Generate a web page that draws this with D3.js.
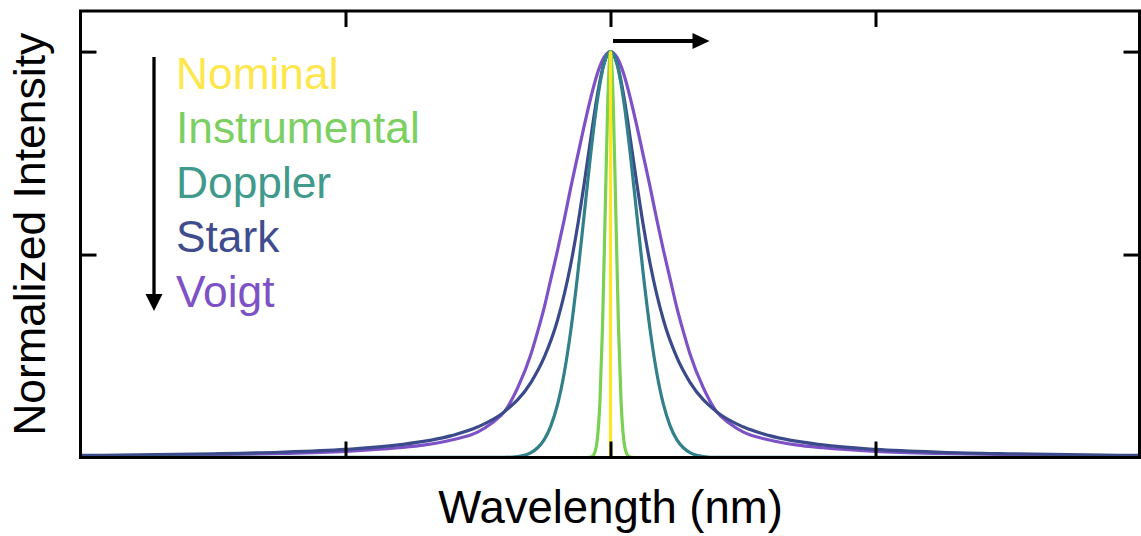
<!DOCTYPE html>
<html>
<head>
<meta charset="utf-8">
<script src="https://cdn.jsdelivr.net/npm/d3@7"></script>
<style>
  html, body { margin: 0; padding: 0; background: #ffffff; }
  svg { display: block; }
  text { font-family: "Liberation Sans", Arial, Helvetica, sans-serif; }
</style>
</head>
<body>
<svg id="chart" width="1141" height="536"></svg>
<script>
// ---- Data ----
const seriesNames = ["Nominal", "Instrumental", "Doppler", "Stark", "Voigt"];

const nominalX = [0, 0];
const nominalY = [0, 1];

const instrumentalX = [-2, -0.09, -0.08, -0.07, -0.06, -0.05, -0.04, -0.03, -0.02, -0.01, 0,
                        0.01, 0.02, 0.03, 0.04, 0.05, 0.06, 0.07, 0.08, 0.09, 2];
const instrumentalY = [0, 0, 0.0003, 0.0022, 0.0111, 0.0439, 0.1353, 0.3247, 0.6065, 0.8825, 1,
                        0.8825, 0.6065, 0.3247, 0.1353, 0.0439, 0.0111, 0.0022, 0.0003, 0, 0];

const dopplerX = [-2, -0.4, -0.35, -0.3, -0.275, -0.25, -0.225, -0.2, -0.175, -0.15, -0.125, -0.1, -0.075, -0.05, -0.025, 0,
                   0.025, 0.05, 0.075, 0.1, 0.125, 0.15, 0.175, 0.2, 0.225, 0.25, 0.275, 0.3, 0.35, 0.4, 2];
const dopplerY = [0, 0.0003, 0.0025, 0.012, 0.024, 0.044, 0.078, 0.13, 0.207, 0.312, 0.444, 0.594, 0.746, 0.878, 0.968, 1,
                   0.968, 0.878, 0.746, 0.594, 0.444, 0.312, 0.207, 0.13, 0.078, 0.044, 0.024, 0.012, 0.0025, 0.0003, 0];

const starkX = [-2, -1.5, -1.25, -1, -0.8, -0.6, -0.5, -0.4, -0.3, -0.25, -0.2, -0.15, -0.125, -0.1, -0.075, -0.05, -0.025, 0,
                 0.025, 0.05, 0.075, 0.1, 0.125, 0.15, 0.2, 0.25, 0.3, 0.4, 0.5, 0.6, 0.8, 1, 1.25, 1.5, 2];
const starkY = [0.0051, 0.009, 0.0129, 0.02, 0.031, 0.0538, 0.0756, 0.113, 0.185, 0.247, 0.338, 0.476, 0.567, 0.672, 0.784, 0.891, 0.97, 1,
                 0.97, 0.891, 0.784, 0.672, 0.567, 0.476, 0.338, 0.247, 0.185, 0.113, 0.0756, 0.0538, 0.031, 0.02, 0.0129, 0.009, 0.0051];

const voigtX = [-2, -1.5, -1.25, -1, -0.8, -0.7, -0.6, -0.5, -0.45, -0.4, -0.35, -0.3, -0.275, -0.25, -0.225, -0.2, -0.175, -0.15, -0.125, -0.1, -0.075, -0.05, -0.025, 0,
                 0.025, 0.05, 0.075, 0.1, 0.125, 0.15, 0.175, 0.2, 0.225, 0.25, 0.275, 0.3, 0.35, 0.4, 0.45, 0.5, 0.6, 0.7, 0.8, 1, 1.25, 1.5, 2];
const voigtY = [0.0038, 0.0068, 0.0098, 0.0152, 0.024, 0.031, 0.043, 0.063, 0.084, 0.113, 0.172, 0.255, 0.31, 0.37, 0.44, 0.51, 0.585, 0.665, 0.74, 0.815, 0.885, 0.945, 0.985, 1,
                 0.985, 0.945, 0.885, 0.815, 0.74, 0.665, 0.585, 0.51, 0.44, 0.37, 0.31, 0.255, 0.172, 0.113, 0.084, 0.063, 0.043, 0.031, 0.024, 0.0152, 0.0098, 0.0068, 0.0038];

const xTicks = [-1, 0, 1];
const yTicks = [0.5, 1];

const lineColors = ["#fde725", "#7ad151", "#31808a", "#3b4a8a", "#7d52c6"];
const textColors = ["#fde74c", "#7ccf62", "#3f9a8c", "#3f4d8e", "#7d52c6"];

// ---- Layout ----
const svg = d3.select("#chart");
const pLeft = 80.5, pRight = 1139.5, pTop = 11, pBottom = 457.5;

const x = d3.scaleLinear().domain([-2, 2]).range([pLeft, pRight + 1]);
const y = d3.scaleLinear().domain([0, 1.1]).range([pBottom, pTop]);

const defs = svg.append("defs");
defs.append("clipPath").attr("id", "clip")
  .append("rect").attr("x", pLeft).attr("y", pTop).attr("width", pRight - pLeft).attr("height", pBottom - pTop);

const series = [
  { name: "Voigt", xs: voigtX, ys: voigtY, color: lineColors[4], curve: d3.curveMonotoneX },
  { name: "Stark", xs: starkX, ys: starkY, color: lineColors[3], curve: d3.curveMonotoneX },
  { name: "Doppler", xs: dopplerX, ys: dopplerY, color: lineColors[2], curve: d3.curveMonotoneX },
  { name: "Instrumental", xs: instrumentalX, ys: instrumentalY, color: lineColors[1], curve: d3.curveMonotoneX },
  { name: "Nominal", xs: nominalX, ys: nominalY, color: lineColors[0], curve: d3.curveLinear }
];

const gLines = svg.append("g").attr("clip-path", "url(#clip)");
series.forEach(s => {
  const pts = s.xs.map((v, i) => [v, s.ys[i]]);
  const line = d3.line().x(d => x(d[0])).y(d => y(d[1])).curve(s.curve);
  gLines.append("path")
    .attr("d", line(pts))
    .attr("fill", "none")
    .attr("stroke", s.color)
    .attr("stroke-width", 3.2)
    .attr("stroke-linejoin", "round");
});

// ---- Axes (frame with inward ticks on all sides) ----
const tickLen = 16;
const axBottom = d3.axisBottom(x).tickValues(xTicks).tickSize(-tickLen).tickFormat("");
const axTop = d3.axisTop(x).tickValues(xTicks).tickSize(-tickLen).tickFormat("");
const axLeft = d3.axisLeft(y).tickValues(yTicks).tickSize(-tickLen).tickFormat("");
const axRight = d3.axisRight(y).tickValues(yTicks).tickSize(-tickLen).tickFormat("");

function styleAxis(g) {
  g.select(".domain").remove();
  g.selectAll(".tick line").attr("stroke", "#000").attr("stroke-width", 3);
}
svg.append("g").attr("transform", `translate(0,${pBottom})`).call(axBottom).call(styleAxis);
svg.append("g").attr("transform", `translate(0,${pTop})`).call(axTop).call(styleAxis);
svg.append("g").attr("transform", `translate(${pLeft},0)`).call(axLeft).call(styleAxis);
svg.append("g").attr("transform", `translate(${pRight},0)`).call(axRight).call(styleAxis);

svg.append("rect")
  .attr("x", pLeft).attr("y", pTop)
  .attr("width", pRight - pLeft).attr("height", pBottom - pTop)
  .attr("fill", "none").attr("stroke", "#000").attr("stroke-width", 3);

// ---- Legend text ----
const legend = svg.append("g");
seriesNames.forEach((n, i) => {
  legend.append("text")
    .attr("x", 176)
    .attr("y", 89 + i * 54.4)
    .attr("fill", textColors[i])
    .attr("font-size", 44.3)
    .text(n);
});

// ---- Arrows ----
svg.append("line")
  .attr("x1", 154).attr("y1", 57).attr("x2", 154).attr("y2", 296)
  .attr("stroke", "#000").attr("stroke-width", 3.3);
svg.append("path").attr("d", "M145.5,294 L162.5,294 L154,311 Z").attr("fill", "#000");

svg.append("line")
  .attr("x1", 613).attr("y1", 41).attr("x2", 695).attr("y2", 41)
  .attr("stroke", "#000").attr("stroke-width", 3.8);
svg.append("path").attr("d", "M692.5,33 L709.5,41 L692.5,49 Z").attr("fill", "#000");

// ---- Axis titles ----
svg.append("text")
  .attr("x", x(0)).attr("y", 523)
  .attr("text-anchor", "middle")
  .attr("font-size", 45.5)
  .attr("fill", "#000")
  .text("Wavelength (nm)");

svg.append("text")
  .attr("transform", `translate(45,${(pTop + pBottom) / 2}) rotate(-90)`)
  .attr("text-anchor", "middle")
  .attr("font-size", 44.5)
  .attr("fill", "#000")
  .text("Normalized Intensity");
</script>
</body>
</html>
